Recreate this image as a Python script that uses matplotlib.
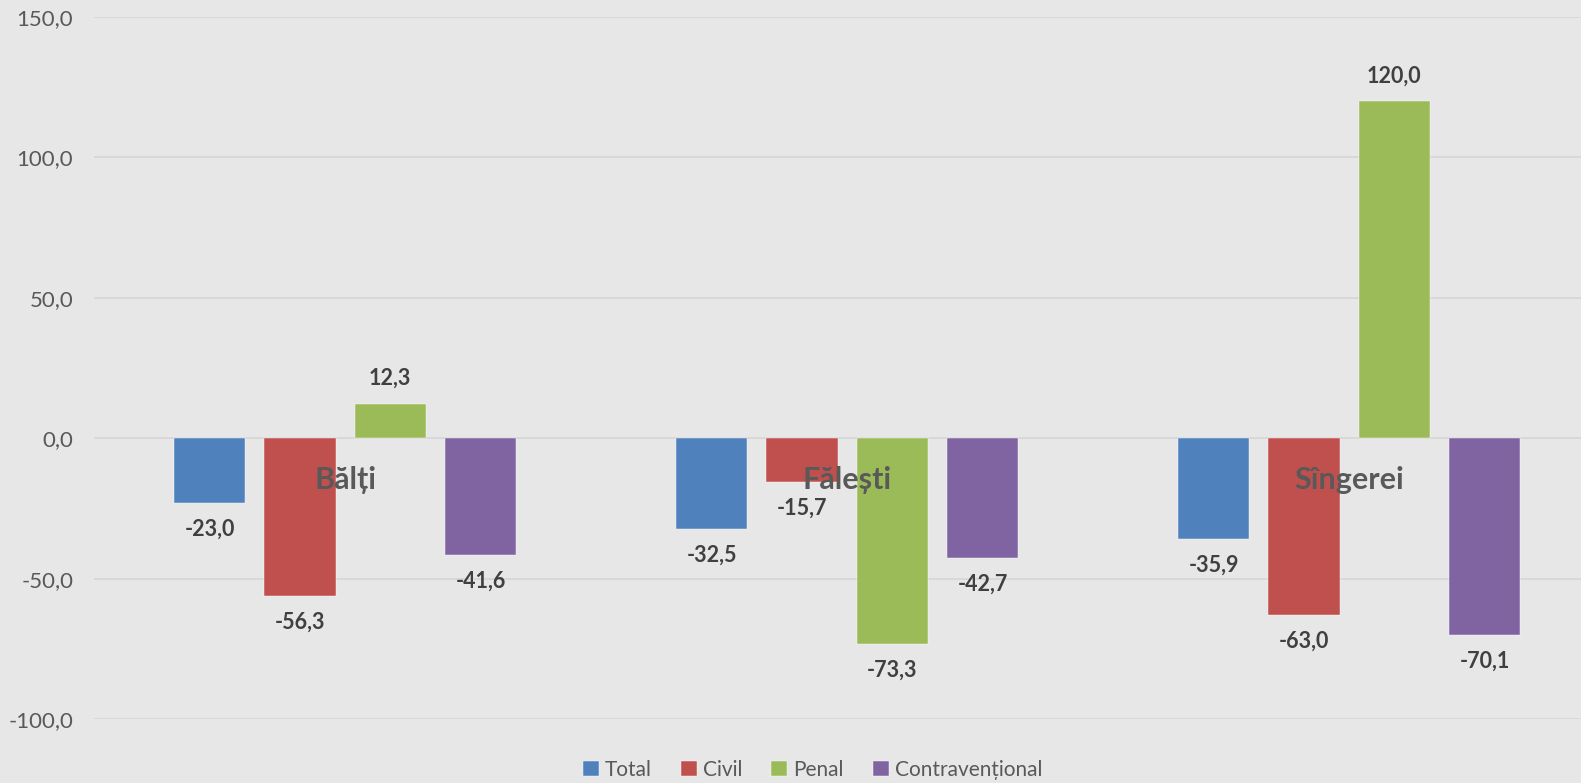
import numpy as np
import matplotlib.pyplot as plt

# Date din grafic (%)
categorii = ["Bălți", "Fălești", "Sîngerei"]
serii = ["Total", "Civil", "Penal", "Contravențional"]
total = [-23.0, -32.5, -35.9]
civil = [-56.3, -15.7, -63.0]
penal = [12.3, -73.3, 120.0]
contrav = [-41.6, -42.7, -70.1]
yticks = [-100, -50, 0, 50, 100, 150]

valori = [total, civil, penal, contrav]
culori = ["#4F81BD", "#C0504D", "#9BBB59", "#8064A2"]

plt.rcParams['font.family'] = ['Lato', 'DejaVu Sans']
bg = "#E7E7E7"

fig = plt.figure(figsize=(15.81, 7.83), dpi=100, facecolor=bg)
ax = fig.add_axes([0.0595, 0.0817, 0.9526, 0.8966], facecolor=bg)

x = np.arange(len(categorii))
w = 0.142
step = 0.18
for i, (nume, vals, c) in enumerate(zip(serii, valori, culori)):
    pos = x + (i - 1.5) * step
    ax.bar(pos, vals, width=w, color=c, label=nume, zorder=3,
           edgecolor="#FFFFFF", linewidth=0.3)
    for px, v in zip(pos, vals):
        off = 25 if v >= 0 else -26
        ax.annotate(f"{v:.1f}".replace(".", ","), (px, v), xytext=(0, off),
                    textcoords="offset pixels", ha="center", va="center",
                    fontsize=15.5, fontweight="bold", color="#404040", zorder=4)

# etichetele categoriilor stau pe axa zero
for xi, nume in zip(x, categorii):
    ax.annotate(nume, (xi, 0), xytext=(0, -42), textcoords="offset pixels",
                ha="center", va="center", fontsize=22, fontweight="bold",
                color="#595959", zorder=5)

ax.set_xlim(-0.5, 2.5)
ax.set_ylim(-100, 150)
ax.set_yticks(yticks)
ax.set_yticklabels([f"{t:.1f}".replace(".", ",") for t in yticks],
                   fontsize=16, color="#595959")
ax.set_xticks([])
ax.grid(axis="y", color="#D6D6D6", linewidth=1.2, zorder=0)
ax.tick_params(axis="y", length=0, pad=15)
for s in ax.spines.values():
    s.set_visible(False)

leg = fig.legend(loc="lower center", bbox_to_anchor=(0.514, -0.02), ncol=4,
                 frameon=False, fontsize=15, handlelength=0.75, handleheight=0.75,
                 handletextpad=0.3, columnspacing=1.4, labelcolor="#595959")

fig.savefig("out.png", dpi=100, facecolor=bg)
